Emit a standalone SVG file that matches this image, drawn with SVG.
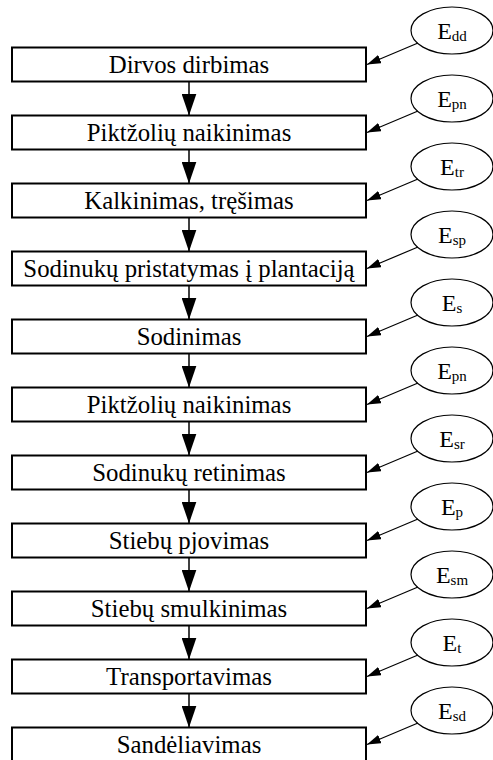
<svg xmlns="http://www.w3.org/2000/svg" width="493" height="760" viewBox="0 0 493 760">
<style>
.box{fill:#fff;stroke:#000;stroke-width:2}
.ell{fill:#fff;stroke:#000;stroke-width:1.2}
text{font-family:'Liberation Serif','Times New Roman',Tinos,'DejaVu Serif',serif;fill:#000;text-anchor:middle}
.lbl{font-size:24.8px}
.e{font-size:24px}
.sub{font-size:15px}
.v{stroke:#000;stroke-width:1.5;fill:none;marker-end:url(#av)}
.s{stroke:#000;stroke-width:1.2;fill:none;marker-end:url(#as)}
</style>
<defs>
<marker id="av" viewBox="0 0 22 15" refX="22" refY="7.5" markerWidth="22" markerHeight="15" markerUnits="userSpaceOnUse" orient="auto">
<path d="M0,0 L22,7.5 L0,15 z" fill="#000"/>
</marker>
<marker id="as" viewBox="0 0 14 9" refX="14" refY="4.5" markerWidth="14" markerHeight="9" markerUnits="userSpaceOnUse" orient="auto">
<path d="M0,0 L14,4.5 L0,9 z" fill="#000"/>
</marker>
</defs>
<rect width="493" height="760" fill="#fff"/>
<g font-family="Liberation Serif, Times New Roman, serif">
<g id="n1"><rect class="box" x="12" y="47.5" width="354" height="34"/><text class="lbl" font-family="Liberation Serif, serif" x="189" y="73">Dirvos dirbimas</text></g>
<g id="n2"><rect class="box" x="12" y="115.5" width="354" height="34"/><text class="lbl" font-family="Liberation Serif, serif" x="189" y="141">Piktžolių naikinimas</text></g>
<g id="n3"><rect class="box" x="12" y="183.5" width="354" height="34"/><text class="lbl" font-family="Liberation Serif, serif" x="189" y="209">Kalkinimas, tręšimas</text></g>
<g id="n4"><rect class="box" x="12" y="251.5" width="354" height="34"/><text class="lbl" font-family="Liberation Serif, serif" x="189" y="277">Sodinukų pristatymas į plantaciją</text></g>
<g id="n5"><rect class="box" x="12" y="319.5" width="354" height="34"/><text class="lbl" font-family="Liberation Serif, serif" x="189" y="345">Sodinimas</text></g>
<g id="n6"><rect class="box" x="12" y="387.5" width="354" height="34"/><text class="lbl" font-family="Liberation Serif, serif" x="189" y="413">Piktžolių naikinimas</text></g>
<g id="n7"><rect class="box" x="12" y="455.5" width="354" height="34"/><text class="lbl" font-family="Liberation Serif, serif" x="189" y="481">Sodinukų retinimas</text></g>
<g id="n8"><rect class="box" x="12" y="523.5" width="354" height="34"/><text class="lbl" font-family="Liberation Serif, serif" x="189" y="549">Stiebų pjovimas</text></g>
<g id="n9"><rect class="box" x="12" y="591.5" width="354" height="34"/><text class="lbl" font-family="Liberation Serif, serif" x="189" y="617">Stiebų smulkinimas</text></g>
<g id="n10"><rect class="box" x="12" y="659.5" width="354" height="34"/><text class="lbl" font-family="Liberation Serif, serif" x="189" y="685">Transportavimas</text></g>
<g id="n11"><rect class="box" x="12" y="727.5" width="354" height="34"/><text class="lbl" font-family="Liberation Serif, serif" x="189" y="753">Sandėliavimas</text></g>

<g id="e1"><ellipse class="ell" cx="452" cy="30.5" rx="41" ry="23.5"/><text class="e" font-family="Liberation Serif, serif" x="452" y="38.5">E<tspan class="sub" dy="2">dd</tspan></text></g>
<g id="e2"><ellipse class="ell" cx="452" cy="98.5" rx="41" ry="23.5"/><text class="e" font-family="Liberation Serif, serif" x="452" y="106.5">E<tspan class="sub" dy="2">pn</tspan></text></g>
<g id="e3"><ellipse class="ell" cx="452" cy="166.5" rx="41" ry="23.5"/><text class="e" font-family="Liberation Serif, serif" x="452" y="174.5">E<tspan class="sub" dy="2">tr</tspan></text></g>
<g id="e4"><ellipse class="ell" cx="452" cy="234.5" rx="41" ry="23.5"/><text class="e" font-family="Liberation Serif, serif" x="452" y="242.5">E<tspan class="sub" dy="2">sp</tspan></text></g>
<g id="e5"><ellipse class="ell" cx="452" cy="302.5" rx="41" ry="23.5"/><text class="e" font-family="Liberation Serif, serif" x="452" y="310.5">E<tspan class="sub" dy="2">s</tspan></text></g>
<g id="e6"><ellipse class="ell" cx="452" cy="370.5" rx="41" ry="23.5"/><text class="e" font-family="Liberation Serif, serif" x="452" y="378.5">E<tspan class="sub" dy="2">pn</tspan></text></g>
<g id="e7"><ellipse class="ell" cx="452" cy="438.5" rx="41" ry="23.5"/><text class="e" font-family="Liberation Serif, serif" x="452" y="446.5">E<tspan class="sub" dy="2">sr</tspan></text></g>
<g id="e8"><ellipse class="ell" cx="452" cy="506.5" rx="41" ry="23.5"/><text class="e" font-family="Liberation Serif, serif" x="452" y="514.5">E<tspan class="sub" dy="2">p</tspan></text></g>
<g id="e9"><ellipse class="ell" cx="452" cy="574.5" rx="41" ry="23.5"/><text class="e" font-family="Liberation Serif, serif" x="452" y="582.5">E<tspan class="sub" dy="2">sm</tspan></text></g>
<g id="e10"><ellipse class="ell" cx="452" cy="642.5" rx="41" ry="23.5"/><text class="e" font-family="Liberation Serif, serif" x="452" y="650.5">E<tspan class="sub" dy="2">t</tspan></text></g>
<g id="e11"><ellipse class="ell" cx="452" cy="710.5" rx="41" ry="23.5"/><text class="e" font-family="Liberation Serif, serif" x="452" y="718.5">E<tspan class="sub" dy="2">sd</tspan></text></g>
</g>
<g id="connectors">
<path class="v" d="M189,81.5 V115.5"/>
<path class="v" d="M189,149.5 V183.5"/>
<path class="v" d="M189,217.5 V251.5"/>
<path class="v" d="M189,285.5 V319.5"/>
<path class="v" d="M189,353.5 V387.5"/>
<path class="v" d="M189,421.5 V455.5"/>
<path class="v" d="M189,489.5 V523.5"/>
<path class="v" d="M189,557.5 V591.5"/>
<path class="v" d="M189,625.5 V659.5"/>
<path class="v" d="M189,693.5 V727.5"/>
<path class="s" d="M418,43 L367,64.5"/>
<path class="s" d="M418,111 L367,132.5"/>
<path class="s" d="M418,179 L367,200.5"/>
<path class="s" d="M418,247 L367,268.5"/>
<path class="s" d="M418,315 L367,336.5"/>
<path class="s" d="M418,383 L367,404.5"/>
<path class="s" d="M418,451 L367,472.5"/>
<path class="s" d="M418,519 L367,540.5"/>
<path class="s" d="M418,587 L367,608.5"/>
<path class="s" d="M418,655 L367,676.5"/>
<path class="s" d="M418,723 L367,744.5"/>
</g>
</svg>
